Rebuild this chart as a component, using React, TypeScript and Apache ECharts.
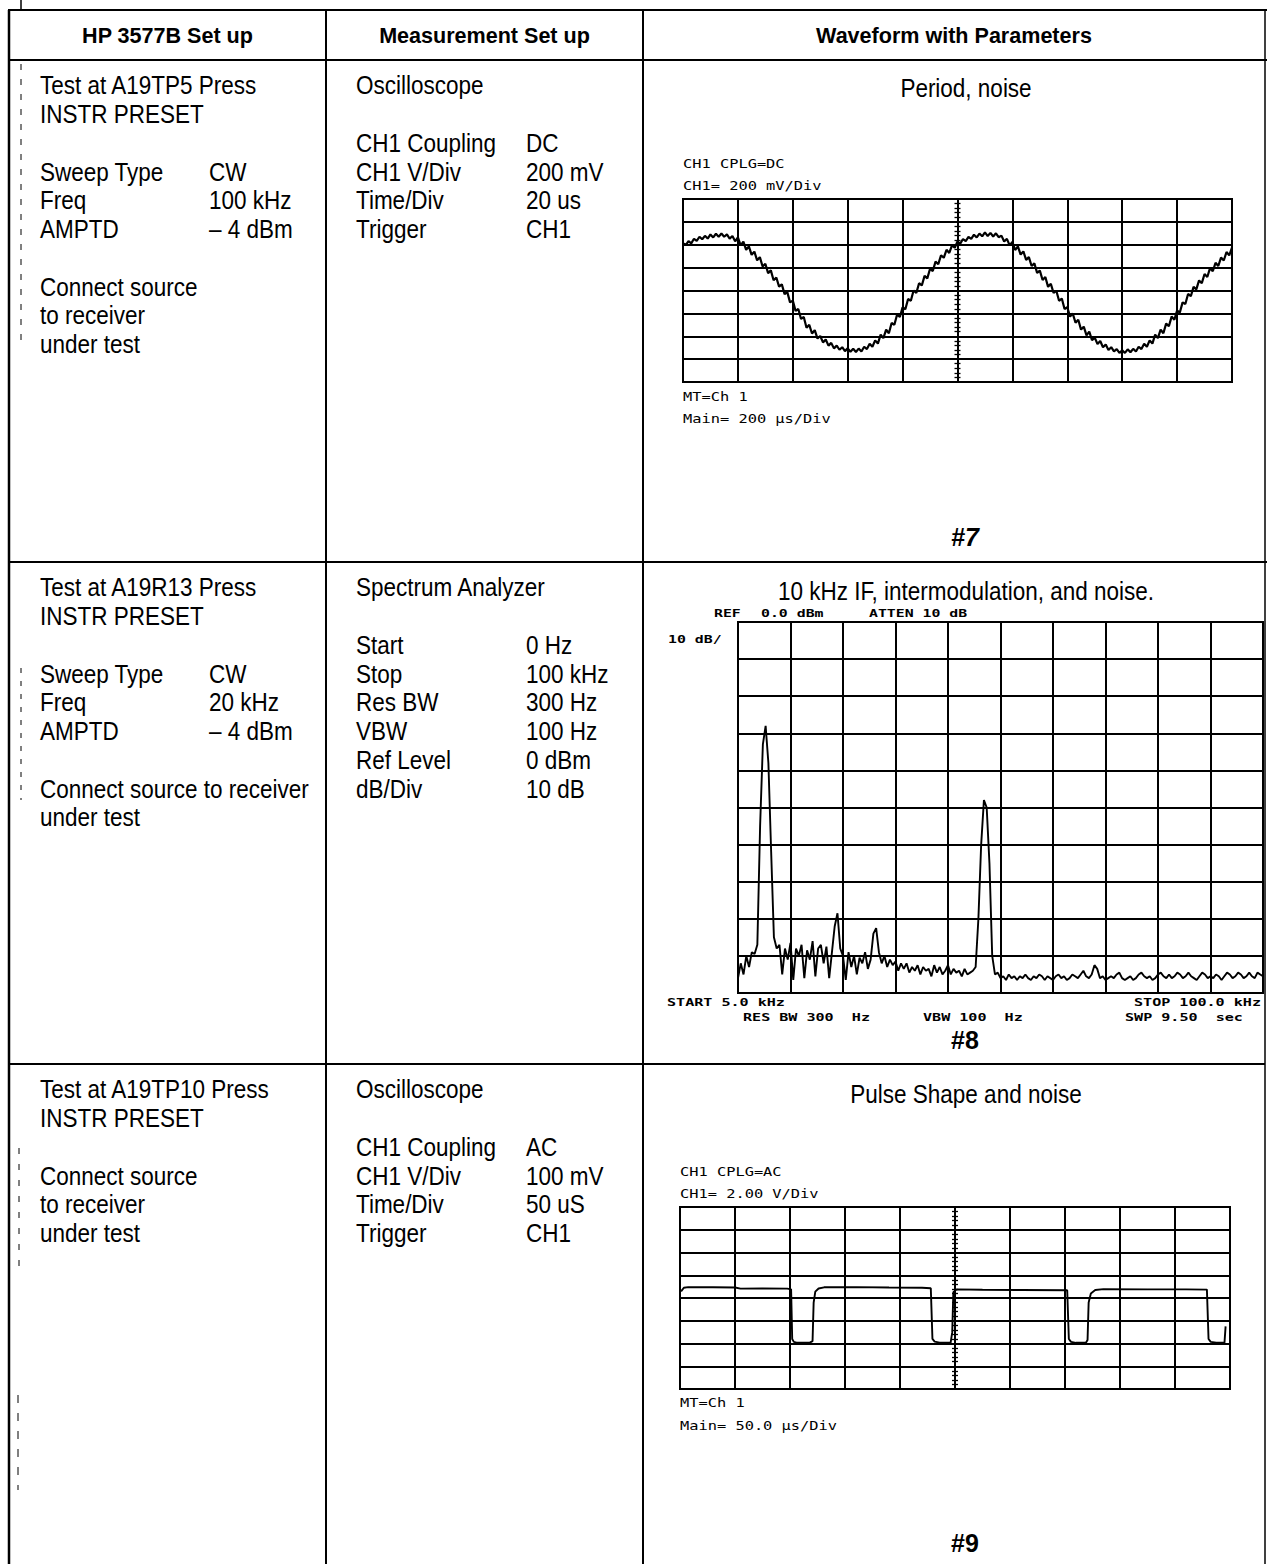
import React, { useEffect, useRef } from "react";
import * as echarts from "echarts";

// ---------------- DATA ----------------
// Oscilloscope #7: sine with noise, value in divisions (8 vertical divs, centre = 0), sampled every 0.05 div
const SINE_DT = 0.05;
const SINE_V = [
  2.07, 1.98, 2.16, 2.06, 2.26, 2.17, 2.35, 2.24, 2.39, 2.27,
  2.45, 2.32, 2.48, 2.35, 2.49, 2.35, 2.45, 2.27, 2.38, 2.15,
  2.32, 1.97, 2.14, 1.78, 1.93, 1.56, 1.70, 1.32, 1.46, 1.05,
  1.17, 0.76, 0.88, 0.45, 0.57, 0.17, 0.27, -0.16, -0.07, -0.52,
  -0.44, -0.89, -0.81, -1.24, -1.16, -1.63, -1.50, -1.88, -1.73, -2.10,
  -1.99, -2.27, -2.14, -2.41, -2.29, -2.53, -2.41, -2.59, -2.48, -2.65,
  -2.53, -2.68, -2.55, -2.69, -2.54, -2.67, -2.46, -2.56, -2.33, -2.46,
  -2.18, -2.32, -1.93, -2.08, -1.71, -1.87, -1.42, -1.50, -1.05, -1.16,
  -0.73, -0.82, -0.37, -0.45, 0.0, -0.11, 0.32, 0.22, 0.64, 0.53,
  0.95, 0.85, 1.26, 1.15, 1.54, 1.43, 1.78, 1.64, 1.97, 1.87,
  2.14, 2.05, 2.25, 2.16, 2.34, 2.26, 2.44, 2.32, 2.49, 2.37,
  2.54, 2.38, 2.52, 2.36, 2.50, 2.33, 2.40, 2.14, 2.26, 1.97,
  2.12, 1.77, 1.93, 1.57, 1.71, 1.34, 1.46, 1.07, 1.19, 0.77,
  0.87, 0.46, 0.59, 0.16, 0.29, -0.11, -0.01, -0.45, -0.35, -0.81,
  -0.73, -1.14, -1.01, -1.41, -1.28, -1.71, -1.58, -1.96, -1.80, -2.17,
  -2.06, -2.34, -2.21, -2.48, -2.36, -2.60, -2.48, -2.66, -2.56, -2.73,
  -2.61, -2.73, -2.57, -2.70, -2.55, -2.67, -2.46, -2.56, -2.33, -2.46,
  -2.18, -2.32, -1.93, -2.08, -1.71, -1.87, -1.45, -1.56, -1.14, -1.28,
  -0.88, -0.96, -0.52, -0.59, -0.15, -0.25, 0.16, 0.05, 0.44, 0.32,
  0.72, 0.59, 0.98, 0.84, 1.21, 1.07, 1.44, 1.31, 1.68, 1.54,
  1.88,
];

// Spectrum #8: dBm every 0.5 kHz from 5 kHz to 100 kHz
const SPEC_START_KHZ = 5;
const SPEC_STOP_KHZ = 100;
const SPEC_STEP_KHZ = 0.5;
const SPEC_DBM = [
  -96, -92, -95, -90, -93, -89, -89.5, -87, -55, -33,
  -28, -38, -62, -85, -88, -87, -95, -88, -91, -86.5,
  -96.5, -88, -90, -87, -96, -88.5, -91, -86, -95.5, -88,
  -87, -92, -87.5, -96, -89, -82, -78.5, -88, -90, -96.5,
  -89, -93, -90, -95, -90.5, -92, -89, -93.5, -91, -84,
  -82.5, -89, -92, -90, -93, -91, -92.5, -91.5, -94, -92,
  -93.5, -92, -94.5, -93, -94, -92.5, -95, -93, -94, -93.5,
  -95.5, -92.5, -94.5, -93, -95, -94, -92.5, -95, -93.5, -94.5,
  -94, -95.5, -93.5, -95, -94.5, -94, -93, -80, -60, -48,
  -50, -65, -90, -95, -94.5, -96, -95.5, -96.5, -95, -96,
  -95.5, -96.5, -95.5, -96, -95, -96, -96.5, -95.5, -96, -95,
  -95.5, -96.5, -95.5, -96, -96.5, -95.5, -95, -96, -95.5, -96.5,
  -96, -95, -95.5, -96, -95, -94, -95.5, -96, -95, -92.5,
  -93.5, -96, -95.5, -96.5, -96, -95.5, -96, -95, -94.5, -96,
  -96.5, -96, -95.5, -96.5, -96, -95, -94.5, -95.5, -96, -95.5,
  -96.5, -96, -95, -94.5, -95.5, -96, -95, -96, -95.5, -94.5,
  -95, -96, -95.5, -94.5, -95.5, -96, -96.5, -95.5, -94.5, -95,
  -96, -95.5, -96, -95, -95.5, -96.5, -95.5, -94.5, -95, -96,
  -95.5, -94.5, -95, -96, -95.5, -94.5, -95.5, -96, -94.5, -95,
  -95.5,
];

// Oscilloscope #9: pulse train, time (div from left edge) and value (div from centre)
const PULSE_T = [
  0.02, 0.07, 0.15, 0.6, 1.0, 1.1, 1.5, 1.95, 2.02, 2.04, 2.07, 2.12, 2.36, 2.41, 2.43, 2.46, 2.52, 2.62,
  3.2, 3.8, 4.4, 4.56, 4.59, 4.63, 4.72, 4.92, 4.95, 4.97, 5.03, 5.5, 6.2, 7.04, 7.07, 7.11, 7.2, 7.38,
  7.41, 7.43, 7.47, 7.55, 7.7, 8.5, 9.2, 9.58, 9.61, 9.65, 9.75, 9.9, 9.92,
];
const PULSE_V = [
  0.29, 0.45, 0.48, 0.47, 0.46, 0.41, 0.42, 0.41, 0.38, -1.8, -1.93, -1.96, -1.96, -1.9, -0.2, 0.28, 0.42, 0.47,
  0.48, 0.46, 0.45, 0.43, -1.8, -1.92, -1.96, -1.97, -1.5, 0.25, 0.38, 0.36, 0.35, 0.34, -1.8, -1.93, -1.97, -1.97,
  -1.85, -0.2, 0.2, 0.35, 0.39, 0.38, 0.38, 0.37, -1.8, -1.93, -1.96, -1.96, -1.25,
];

// Table texts ("label|value"; "" = blank line)
const HEADERS = ["HP 3577B Set up", "Measurement Set up", "Waveform with Parameters"];
const SETUP_ROWS = [
  ["Test at A19TP5 Press", "INSTR PRESET", "", "Sweep Type|CW", "Freq|100 kHz", "AMPTD|– 4 dBm", "", "Connect source", "to receiver", "under test"],
  ["Test at A19R13 Press", "INSTR PRESET", "", "Sweep Type|CW", "Freq|20 kHz", "AMPTD|– 4 dBm", "", "Connect source to receiver", "under test"],
  ["Test at A19TP10 Press", "INSTR PRESET", "", "Connect source", "to receiver", "under test"],
];
const MEAS_ROWS = [
  ["Oscilloscope", "", "CH1 Coupling|DC", "CH1 V/Div|200 mV", "Time/Div|20 us", "Trigger|CH1"],
  ["Spectrum Analyzer", "", "Start|0 Hz", "Stop|100 kHz", "Res BW|300 Hz", "VBW|100 Hz", "Ref Level|0 dBm", "dB/Div|10 dB"],
  ["Oscilloscope", "", "CH1 Coupling|AC", "CH1 V/Div|100 mV", "Time/Div|50 uS", "Trigger|CH1"],
];
const WAVE_TITLES = ["Period, noise", "10 kHz IF, intermodulation, and noise.", "Pulse Shape and noise"];
const FIG_LABELS = ["#7", "#8", "#9"];
const SCOPE1_LABELS = ["CH1 CPLG=DC", "CH1= 200 mV/Div", "MT=Ch 1", "Main= 200 µs/Div"];
const SCOPE3_LABELS = ["CH1 CPLG=AC", "CH1= 2.00 V/Div", "MT=Ch 1", "Main= 50.0 µs/Div"];
const SPEC_TOP_LABELS = ["REF", "0.0 dBm", "ATTEN 10 dB"];
const SPEC_SIDE_LABEL = "10 dB/";
const SPEC_BOTTOM_LABELS = ["START 5.0 kHz", "RES BW 300  Hz", "VBW 100  Hz", "STOP 100.0 kHz", "SWP 9.50  sec"];

// ---------------- LAYOUT ----------------
const W = 1267;
const H = 1564;
const LEFT_X = 9;
const COL1_X = 326;
const COL2_X = 643;
const RIGHT_X = 1265;
const TOP_Y = 10;
const HEAD_Y = 60;
const ROW_TOPS = [60, 562, 1064];
const LINE_H = 28.75;

const FONT_FAMILY = "'Liberation Sans', Arial, Helvetica, sans-serif";
const BODY_FONT = `25px ${FONT_FAMILY}`;
const BODY_SCALE = 0.9;
const HEAD_FONT = `bold 22px ${FONT_FAMILY}`;
const MONO_FONT = "12px 'DejaVu Sans Mono', monospace";
const MONO_B_FONT = "bold 11px 'DejaVu Sans Mono', monospace";

function txt(text: string, x: number, y: number, font: string, opts: any = {}) {
  const align = opts.align || "left";
  return {
    type: "text",
    x,
    y,
    scaleX: opts.scaleX ?? 1,
    silent: true,
    z: 10,
    style: {
      text,
      font,
      fill: "#000",
      textAlign: align,
      align,
      textVerticalAlign: "middle",
      verticalAlign: "middle",
    },
  };
}

function ln(x1: number, y1: number, x2: number, y2: number, w = 2, dash?: number[]) {
  return {
    type: "line",
    silent: true,
    z: 5,
    shape: { x1, y1, x2, y2 },
    style: { stroke: "#000", lineWidth: w, lineDash: dash },
  };
}

function buildGraphics() {
  const g: any[] = [];
  // table rules
  g.push(ln(LEFT_X - 1, TOP_Y, W, TOP_Y, 2));
  g.push(ln(21, 0, 21, TOP_Y, 1.5));
  g.push(ln(LEFT_X - 1, HEAD_Y, W, HEAD_Y, 2));
  g.push(ln(LEFT_X - 1, ROW_TOPS[1], W, ROW_TOPS[1], 2));
  g.push(ln(LEFT_X - 1, ROW_TOPS[2], RIGHT_X, ROW_TOPS[2], 2));
  g.push(ln(LEFT_X, TOP_Y, LEFT_X, H, 2.5));
  g.push(ln(COL1_X, TOP_Y, COL1_X, H, 2));
  g.push(ln(COL2_X, TOP_Y, COL2_X, H, 2));
  g.push(ln(RIGHT_X, TOP_Y, RIGHT_X, H, 1.5));
  // faint scan marks along the left edge
  g.push(ln(21, 64, 21, 345, 1, [6, 9]));
  g.push(ln(21, 668, 21, 800, 1, [5, 8]));
  g.push(ln(19, 1148, 19, 1275, 1, [6, 10]));
  g.push(ln(18, 1395, 18, 1490, 1, [8, 10]));

  // headers
  const headCenters = [(LEFT_X + COL1_X) / 2, (COL1_X + COL2_X) / 2, (COL2_X + RIGHT_X) / 2];
  HEADERS.forEach((h, i) => g.push(txt(h, headCenters[i], 35, HEAD_FONT, { align: "center", scaleX: 0.98 })));

  // setup columns
  const addCol = (lines: string[], rowTop: number, lx: number, vx: number) => {
    lines.forEach((ln2, k) => {
      if (!ln2) return;
      const y = rowTop + 25.5 + k * LINE_H;
      const [label, value] = ln2.split("|");
      g.push(txt(label, lx, y, BODY_FONT, { scaleX: BODY_SCALE }));
      if (value) g.push(txt(value, vx, y, BODY_FONT, { scaleX: BODY_SCALE }));
    });
  };
  SETUP_ROWS.forEach((rows, r) => addCol(rows, ROW_TOPS[r], 40, 209));
  MEAS_ROWS.forEach((rows, r) => addCol(rows, ROW_TOPS[r], 356, 526));

  // waveform titles and figure numbers
  const titleY = [88, 591, 1094];
  WAVE_TITLES.forEach((t, i) => g.push(txt(t, 966, titleY[i], BODY_FONT, { align: "center", scaleX: BODY_SCALE })));
  const figY = [537, 1040, 1543];
  FIG_LABELS.forEach((t, i) =>
    g.push(
      txt(t, 965, figY[i], `bold ${i === 0 ? "italic " : ""}25px ${FONT_FAMILY}`, { align: "center", scaleX: 1.0 })
    )
  );

  // scope 1 labels
  const s1 = [
    [683, 164],
    [683, 186],
    [683, 397],
    [683, 419],
  ];
  SCOPE1_LABELS.forEach((t, i) => g.push(txt(t, s1[i][0], s1[i][1], MONO_FONT, { scaleX: 1.28 })));
  const s3 = [
    [680, 1172],
    [680, 1194],
    [680, 1403],
    [680, 1426],
  ];
  SCOPE3_LABELS.forEach((t, i) => g.push(txt(t, s3[i][0], s3[i][1], MONO_FONT, { scaleX: 1.28 })));

  // spectrum labels
  const st = [714, 761, 869];
  SPEC_TOP_LABELS.forEach((t, i) => g.push(txt(t, st[i], 613, MONO_B_FONT, { scaleX: 1.35 })));
  g.push(txt(SPEC_SIDE_LABEL, 668, 639, MONO_B_FONT, { scaleX: 1.35 }));
  const sb = [
    [667, 1002],
    [743, 1017],
    [923, 1017],
    [1134, 1002],
    [1125, 1017],
  ];
  SPEC_BOTTOM_LABELS.forEach((t, i) => g.push(txt(t, sb[i][0], sb[i][1], MONO_B_FONT, { scaleX: 1.37 })));
  return g;
}

const GRID_LINE = { color: "#000", width: 2 };

function scopeX(gridIndex: number) {
  return {
    type: "value",
    gridIndex,
    min: -5,
    max: 5,
    interval: 1,
    axisLine: { show: false, onZero: false },
    axisTick: { show: false },
    axisLabel: { show: false },
    splitLine: { show: true, lineStyle: GRID_LINE },
  };
}

function scopeY(gridIndex: number, xIdx: number, position: string, split: boolean) {
  return {
    type: "value",
    gridIndex,
    min: -4,
    max: 4,
    interval: 1,
    position,
    axisLine: { show: true, onZero: true, onZeroAxisIndex: xIdx, lineStyle: { color: "#000", width: 2 } },
    axisTick: { show: true, length: 4, lineStyle: { color: "#000", width: 1.5 } },
    minorTick: { show: true, splitNumber: 5, length: 3, lineStyle: { color: "#000", width: 1.3 } },
    axisLabel: { show: false },
    splitLine: { show: split, lineStyle: GRID_LINE },
  };
}

export default function App() {
  const ref = useRef<HTMLDivElement>(null);
  useEffect(() => {
    if (!ref.current) return;
    const chart = echarts.init(ref.current, undefined, { renderer: "svg" });
    const gridBase = { show: true, borderColor: "#000", borderWidth: 2, backgroundColor: "transparent", containLabel: false, outerBoundsMode: "none" };
    chart.setOption({
      animation: false,
      backgroundColor: "#fff",
      grid: [
        { ...gridBase, left: 683, top: 199, width: 549, height: 183 },
        { ...gridBase, left: 738, top: 622, width: 525, height: 371 },
        { ...gridBase, left: 680, top: 1207, width: 550, height: 182 },
      ],
      xAxis: [
        scopeX(0),
        {
          type: "value",
          gridIndex: 1,
          min: 0,
          max: SPEC_STOP_KHZ - SPEC_START_KHZ,
          interval: (SPEC_STOP_KHZ - SPEC_START_KHZ) / 10,
          axisLine: { show: false, onZero: false },
          axisTick: { show: false },
          axisLabel: { show: false },
          splitLine: { show: true, lineStyle: GRID_LINE },
        },
        scopeX(2),
      ],
      yAxis: [
        scopeY(0, 0, "left", true),
        scopeY(0, 0, "right", false),
        {
          type: "value",
          gridIndex: 1,
          min: -100,
          max: 0,
          interval: 10,
          axisLine: { show: false, onZero: false },
          axisTick: { show: false },
          axisLabel: { show: false },
          splitLine: { show: true, lineStyle: GRID_LINE },
        },
        scopeY(2, 2, "left", true),
        scopeY(2, 2, "right", false),
      ],
      series: [
        {
          type: "line",
          xAxisIndex: 0,
          yAxisIndex: 0,
          symbol: "none",
          lineStyle: { color: "#000", width: 2.2 },
          z: 3,
          data: SINE_V.map((v, i) => [i * SINE_DT - 5, v]),
        },
        {
          type: "line",
          xAxisIndex: 1,
          yAxisIndex: 2,
          symbol: "none",
          lineStyle: { color: "#000", width: 1.9 },
          z: 3,
          data: SPEC_DBM.map((v, i) => [i * SPEC_STEP_KHZ, v]),
        },
        {
          type: "line",
          xAxisIndex: 2,
          yAxisIndex: 3,
          symbol: "none",
          lineStyle: { color: "#000", width: 1.9 },
          z: 3,
          data: PULSE_T.map((t, i) => [t - 5, PULSE_V[i]]),
        },
      ],
      graphic: { elements: buildGraphics() },
    });
    return () => chart.dispose();
  }, []);
  return <div ref={ref} style={{ position: "absolute", left: 0, top: 0, width: W, height: H, background: "#fff" }} />;
}
